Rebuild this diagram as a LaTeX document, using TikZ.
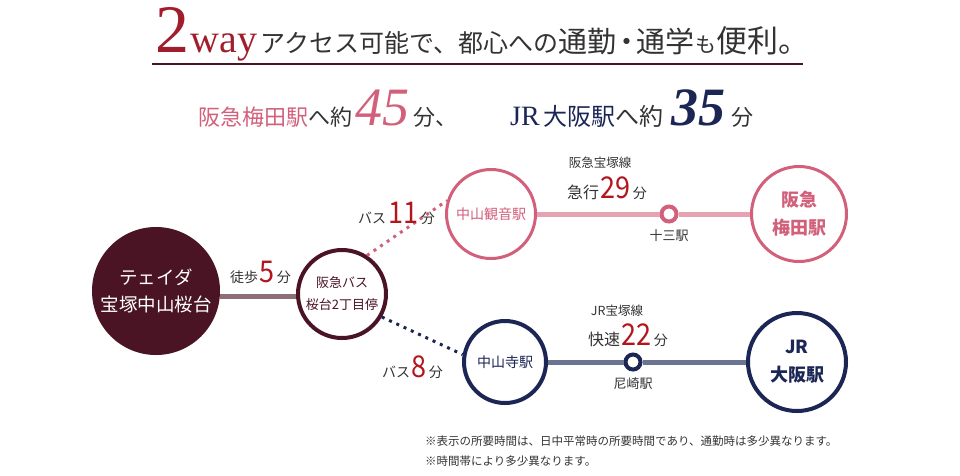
\documentclass[tikz,border=0pt]{standalone}
\usepackage{fontspec}
\newfontfamily\jp{Noto Sans CJK JP}
\newfontfamily\jpnum[FakeStretch=0.9]{Noto Sans CJK JP}
\newfontfamily\latinserif{Liberation Serif}
\newcommand\setfs[1]{\fontsize{#1}{#1}\selectfont}
\newcommand\setfsl[2]{\fontsize{#1}{#2}\selectfont}

\definecolor{wine}{HTML}{4A1424}
\definecolor{winegray}{HTML}{8E6E77}
\definecolor{rose}{HTML}{D2607B}
\definecolor{roseline}{HTML}{E8A1B1}
\definecolor{jrnavy}{HTML}{1B2655}
\definecolor{navyline}{HTML}{6B7592}
\definecolor{numred}{HTML}{B3151E}
\definecolor{titlered}{HTML}{A01E2C}
\definecolor{textgray}{HTML}{333333}

\begin{document}
\begin{tikzpicture}[x=1pt, y=-1pt,
    chunk/.style={anchor=base west, inner sep=0pt},
    label/.style={anchor=base west, inner sep=0pt, text=textgray, font=\jp\setfs{14}},
    num/.style={anchor=base west, inner sep=0pt, text=numred, font=\jpnum\setfs{30}},
    station/.style={circle, draw, fill=white, inner sep=0pt, align=center, font=\jp},
    halt/.style={circle, draw, fill=white, inner sep=0pt, minimum size=15, line width=4pt},
    rail/.style={line width=5pt},
    busline/.style={line width=3pt, dash pattern=on 3pt off 5pt}]
    \useasboundingbox (0,0) rectangle (960,475);

    % title
    \node[chunk, text=titlered, font=\latinserif\setfs{68}] (two) at (155,52) {2};
    \node[chunk, text=titlered, font=\latinserif\setfs{40}] (way) at ([xshift=1]two.base east) {way};
    \node[chunk, text=textgray, font=\jp\setfs{25}] (tA) at ([xshift=3]way.base east) {アクセス可能で、都心への};
    \node[chunk, text=textgray, font=\jp\setfs{29}] (tB) at (tA.base east) {通勤};
    \node[chunk, text=textgray, font=\jp\setfs{29}] (tDot) at ([xshift=-5]tB.base east) {・};
    \node[chunk, text=textgray, font=\jp\setfs{29}] (tC) at ([xshift=-5]tDot.base east) {通学};
    \node[chunk, text=textgray, font=\jp\setfs{21}] (tD) at (tC.base east) {も};
    \node[chunk, text=textgray, font=\jp\setfs{31}] (tE) at (tD.base east) {便利。};
    \draw[wine, line width=2pt] (152,64) -- (803,64);

    % subtitle
    \node[chunk, text=rose, font=\jp\setfs{22}] (sA) at (198,125) {阪急梅田駅};
    \node[chunk, text=textgray, font=\jp\setfs{22}] (sB) at (sA.base east) {へ約};
    \node[chunk, text=rose, font=\latinserif\itshape\setfs{54}] (sC) at ([xshift=2]sB.base east) {45};
    \node[chunk, text=textgray, font=\jp\setfs{22}] (sD) at ([xshift=4]sC.base east) {分、};
    \node[chunk, text=jrnavy, font=\latinserif\setfs{28}] (sE) at (510,125) {JR};
    \node[chunk, text=jrnavy, font=\jp\setfs{24}] (sF) at ([xshift=3]sE.base east) {大阪駅};
    \node[chunk, text=textgray, font=\jp\setfs{24}] (sG) at (sF.base east) {へ約};
    \node[chunk, text=jrnavy, font=\latinserif\bfseries\itshape\setfs{54}] (sH) at ([xshift=8]sG.base east) {35};
    \node[chunk, text=textgray, font=\jp\setfs{22}] (sI) at ([xshift=5]sH.base east) {分};

    % stations
    \node[circle, fill=wine, minimum size=128, inner sep=0pt, text=white, align=center,
          font=\jp\setfsl{18.5}{27}] (home) at (156,291) {テェイダ\\宝塚中山桜台};
    \node[station, draw=wine, line width=4pt, minimum size=88, text=wine,
          font=\jp\setfsl{13}{22}] (bus) at (342,294) {阪急バス\\桜台2丁目停};
    \node[station, draw=rose, line width=3pt, minimum size=89, text=rose,
          font=\jp\setfs{14}] (kannon) at (491,214) {中山観音駅};
    \node[station, draw=rose, line width=3pt, minimum size=95, text=rose,
          font=\jp\bfseries\setfsl{18}{28}] (umeda) at (799,214) {阪急\\梅田駅};
    \node[halt, draw=rose] (juso) at (669,214) {};
    \node[station, draw=jrnavy, line width=4pt, minimum size=82, text=jrnavy,
          font=\jp\setfs{14}] (chuzanji) at (505,362) {中山寺駅};
    \node[station, draw=jrnavy, line width=4pt, minimum size=98, text=jrnavy,
          font=\jp\bfseries\setfsl{18}{28}] (osaka) at (797,362) {JR\\大阪駅};
    \node[halt, draw=jrnavy] (amagasaki) at (633,362) {};

    \draw[rail, winegray] (home.east |- 0,296) -- (bus.west |- 0,296);
    \draw[rail, roseline] (kannon) -- (juso) -- (umeda);
    \draw[rail, navyline] (chuzanji) -- (amagasaki) -- (osaka);
    \draw[busline, rose] (bus.57) -- (kannon.163);
    \draw[busline, jrnavy] (bus.-30) -- (chuzanji.170);

    % labels
    \node[label] (walk) at (230,282) {徒歩};
    \node[num] (walkmin) at ([xshift=1]walk.base east) {5};
    \node[label] (walkfun) at ([xshift=2]walkmin.base east) {分};

    \node[label] (busA) at (358,223) {バス};
    \node[num] (busAmin) at ([xshift=2]busA.base east) {11};
    \node[label] (busAfun) at ([xshift=2]busAmin.base east) {分};

    \node[label] (busB) at (382,377) {バス};
    \node[num] (busBmin) at ([xshift=1]busB.base east) {8};
    \node[label] (busBfun) at ([xshift=2]busBmin.base east) {分};

    \node[text=textgray, font=\jp\setfs{12.5}] (hkline) at (600,163) {阪急宝塚線};
    \node[label, font=\jp\setfs{16}] (kyuko) at (567,198) {急行};
    \node[num] (kyukomin) at ([xshift=1]kyuko.base east) {29};
    \node[label] (kyukofun) at ([xshift=2]kyukomin.base east) {分};
    \node[text=textgray, font=\jp\setfs{13}, below=3pt] (jusolbl) at (juso.south) {十三駅};

    \node[text=textgray, font=\jp\setfs{12.5}] (jrline) at (617,311) {JR宝塚線};
    \node[label, font=\jp\setfs{16}] (kaisoku) at (588,345) {快速};
    \node[num] (kaisokumin) at ([xshift=1]kaisoku.base east) {22};
    \node[label] (kaisokufun) at ([xshift=2]kaisokumin.base east) {分};
    \node[text=textgray, font=\jp\setfs{13}, below=3pt] (amalbl) at (amagasaki.south) {尼崎駅};

    % notes
    \node[label, font=\jp\setfs{11.5}] (noteA) at (425,445) {※表示の所要時間は、日中平常時の所要時間であり、通勤時は多少異なります。};
    \node[label, font=\jp\setfs{11.5}] (noteB) at (425,465) {※時間帯により多少異なります。};
\end{tikzpicture}
\end{document}
